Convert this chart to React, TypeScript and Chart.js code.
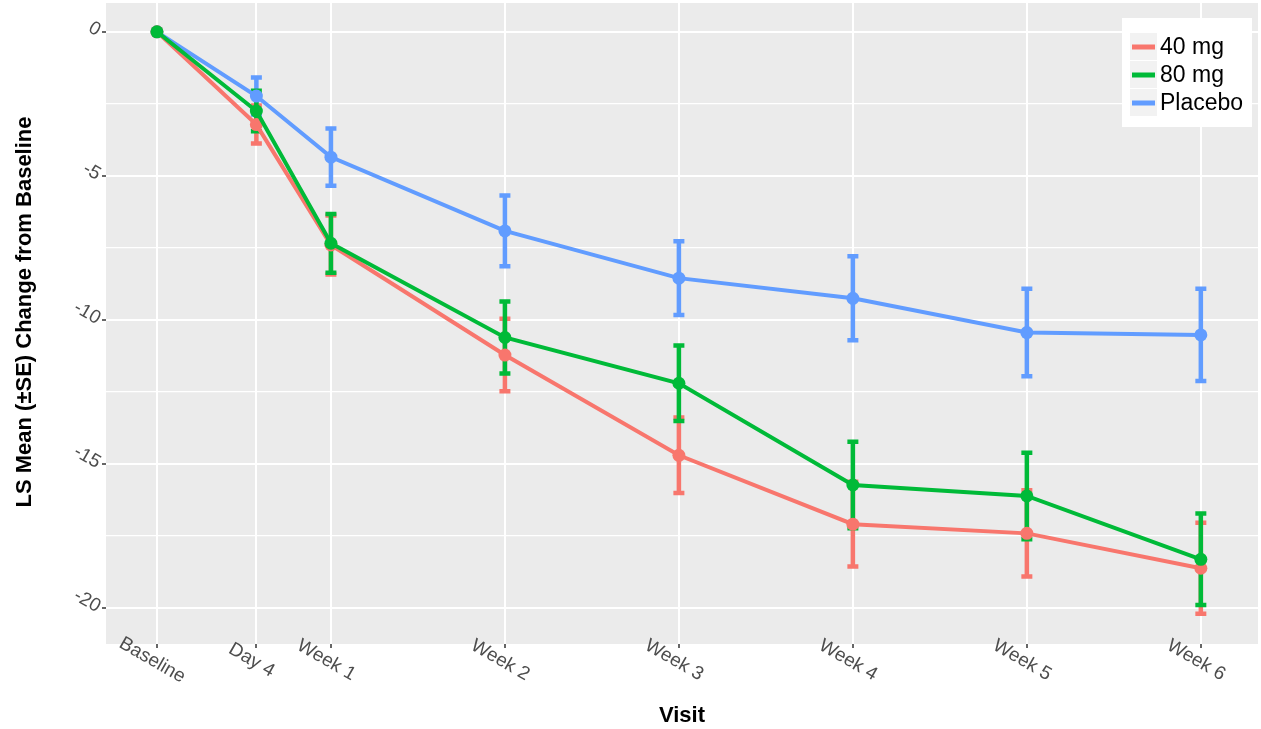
import React, { useEffect, useRef } from "react";
import { Chart, registerables } from "chart.js";

Chart.register(...registerables);

// ---- Data ----
const visitLabels = ["Baseline", "Day 4", "Week 1", "Week 2", "Week 3", "Week 4", "Week 5", "Week 6"];
const visitDays = [0, 4, 7, 14, 21, 28, 35, 42];
const seriesNames = ["40 mg", "80 mg", "Placebo"];
const seriesColors = ["#F8766D", "#00BA38", "#619CFF"];
const mean40 = [0, -3.22, -7.4, -11.22, -14.7, -17.09, -17.41, -18.62];
const se40 = [0, 0.66, 1.02, 1.26, 1.31, 1.47, 1.5, 1.58];
const mean80 = [0, -2.75, -7.34, -10.61, -12.2, -15.73, -16.11, -18.31];
const se80 = [0, 0.7, 1.02, 1.25, 1.31, 1.5, 1.5, 1.59];
const meanPbo = [0, -2.23, -4.35, -6.91, -8.55, -9.25, -10.44, -10.52];
const sePbo = [0, 0.64, 0.99, 1.23, 1.28, 1.46, 1.52, 1.6];
const yTicks = [-20, -17.5, -15, -12.5, -10, -7.5, -5, -2.5, 0];
const xTitle = "Visit";
const yTitle = "LS Mean (±SE) Change from Baseline";

const allMeans = [mean40, mean80, meanPbo];
const allSE = [se40, se80, sePbo];

const FONT = "'Liberation Sans', Arial, Helvetica, sans-serif";

export default function App() {
  const canvasRef = useRef<HTMLCanvasElement | null>(null);

  useEffect(() => {
    const canvas = canvasRef.current;
    if (!canvas) return;

    const datasets = seriesNames.map((name, i) => ({
      label: name,
      data: visitDays.map((d, j) => ({ x: d, y: allMeans[i][j] })),
      borderColor: seriesColors[i],
      backgroundColor: seriesColors[i],
      pointBackgroundColor: seriesColors[i],
      pointBorderWidth: 0,
      pointRadius: 6.5,
      borderWidth: 4,
      tension: 0,
      order: [1, 0, 2][i],
    }));

    const zeroPad = (scale: any) => {
      scale.paddingTop = 0;
      scale.paddingBottom = 0;
      scale.paddingLeft = 0;
      scale.paddingRight = 0;
    };

    const panelPlugin = {
      id: "panelBg",
      beforeDraw(chart: any) {
        const { ctx, chartArea } = chart;
        ctx.save();
        ctx.fillStyle = "#EBEBEB";
        ctx.fillRect(chartArea.left, chartArea.top, chartArea.right - chartArea.left, chartArea.bottom - chartArea.top);
        ctx.restore();
      },
    };

    const errorBarPlugin = {
      id: "errorBars",
      beforeDatasetsDraw(chart: any) {
        const { ctx } = chart;
        const xs = chart.scales.x;
        const ys = chart.scales.y;
        const drawOrder = [2, 0, 1];
        ctx.save();
        ctx.lineWidth = 4.5;
        ctx.lineCap = "butt";
        for (const i of drawOrder) {
          ctx.strokeStyle = seriesColors[i];
          visitDays.forEach((d, j) => {
            const se = allSE[i][j];
            if (!se) return;
            const m = allMeans[i][j];
            const px = xs.getPixelForValue(d);
            const yHi = ys.getPixelForValue(m + se);
            const yLo = ys.getPixelForValue(m - se);
            ctx.beginPath();
            ctx.moveTo(px, yHi);
            ctx.lineTo(px, yLo);
            ctx.moveTo(px - 5.5, yHi);
            ctx.lineTo(px + 5.5, yHi);
            ctx.moveTo(px - 5.5, yLo);
            ctx.lineTo(px + 5.5, yLo);
            ctx.stroke();
          });
        }
        ctx.restore();
      },
    };

    const textPlugin = {
      id: "axisText",
      afterDraw(chart: any) {
        const { ctx, chartArea } = chart;
        const xs = chart.scales.x;
        ctx.save();
        ctx.font = `19px ${FONT}`;
        ctx.fillStyle = "#4D4D4D";
        ctx.textAlign = "center";
        ctx.textBaseline = "top";
        visitDays.forEach((d, j) => {
          const px = xs.getPixelForValue(d);
          ctx.save();
          ctx.translate(px, chartArea.bottom + 8);
          ctx.rotate((30 * Math.PI) / 180);
          ctx.fillText(visitLabels[j], 0, 0);
          ctx.restore();
        });
        // y axis title
        ctx.save();
        ctx.translate(25, chartArea.top + 309);
        ctx.rotate(-Math.PI / 2);
        ctx.font = `bold 22px ${FONT}`;
        ctx.fillStyle = "#000000";
        ctx.textAlign = "center";
        ctx.textBaseline = "middle";
        ctx.fillText(yTitle, 0, 0);
        ctx.restore();
        ctx.restore();
      },
    };

    const legendPlugin = {
      id: "insideLegend",
      afterDraw(chart: any) {
        const { ctx, chartArea } = chart;
        const bx = chartArea.right - 136;
        const by = chartArea.top + 15;
        ctx.save();
        ctx.fillStyle = "#FFFFFF";
        ctx.fillRect(bx, by, 130, 109);
        seriesNames.forEach((name, i) => {
          const ky = by + 15 + i * 28;
          ctx.fillStyle = "#F2F2F2";
          ctx.fillRect(bx + 8, ky, 27, 27);
          ctx.strokeStyle = seriesColors[i];
          ctx.lineWidth = 5;
          ctx.beginPath();
          ctx.moveTo(bx + 10, ky + 14);
          ctx.lineTo(bx + 33, ky + 14);
          ctx.stroke();
          ctx.fillStyle = "#000000";
          ctx.font = `23px ${FONT}`;
          ctx.textAlign = "left";
          ctx.textBaseline = "middle";
          ctx.fillText(name, bx + 38, ky + 14.5);
        });
        ctx.restore();
      },
    };

    const chart = new Chart(canvas, {
      type: "line",
      data: { datasets },
      plugins: [panelPlugin, errorBarPlugin, textPlugin, legendPlugin],
      options: {
        responsive: false,
        animation: false,
        events: [],
        layout: { autoPadding: false, padding: { top: 3, right: 3, left: 0, bottom: 0 } },
        plugins: {
          legend: { display: false },
          tooltip: { enabled: false },
        },
        scales: {
          x: {
            type: "linear",
            min: -2.05,
            max: 44.3,
            afterBuildTicks: (scale: any) => {
              scale.ticks = visitDays.map((v) => ({ value: v }));
            },
            afterFit: (scale: any) => {
              scale.height = 85;
              zeroPad(scale);
            },
            ticks: { display: false },
            grid: {
              color: "#FFFFFF",
              lineWidth: 2,
              drawTicks: true,
              tickLength: 4,
              tickColor: "#333333",
              tickWidth: 1.5,
            },
            border: { display: false },
            title: {
              display: true,
              text: xTitle,
              color: "#000000",
              font: { family: FONT, size: 22, weight: "bold" },
              padding: { top: 0, bottom: 0 },
            },
          },
          y: {
            type: "linear",
            min: -21.25,
            max: 1.0,
            afterBuildTicks: (scale: any) => {
              scale.ticks = yTicks.map((v) => ({ value: v }));
            },
            afterFit: (scale: any) => {
              scale.width = 106;
              zeroPad(scale);
            },
            ticks: {
              autoSkip: false,
              minRotation: -30,
              maxRotation: -30,
              padding: 3,
              color: "#4D4D4D",
              font: { family: FONT, size: 19 },
              callback: (v: any) => (Number(v) % 5 === 0 ? String(v) : ""),
            },
            grid: {
              color: "#FFFFFF",
              lineWidth: (ctx: any) => (ctx.tick && ctx.tick.value % 5 === 0 ? 2 : 1.2),
              drawTicks: true,
              tickLength: 4,
              tickWidth: 1.5,
              tickColor: (ctx: any) => (ctx.tick && ctx.tick.value % 5 === 0 ? "#333333" : "rgba(0,0,0,0)"),
            },
            border: { display: false },
            title: { display: false },
          },
        },
      },
    } as any);

    return () => {
      chart.destroy();
    };
  }, []);

  return (
    <div style={{ position: "absolute", left: 0, top: 0, width: 1261, height: 729, background: "#FFFFFF" }}>
      <canvas ref={canvasRef} width={1261} height={729} style={{ display: "block" }} />
    </div>
  );
}
